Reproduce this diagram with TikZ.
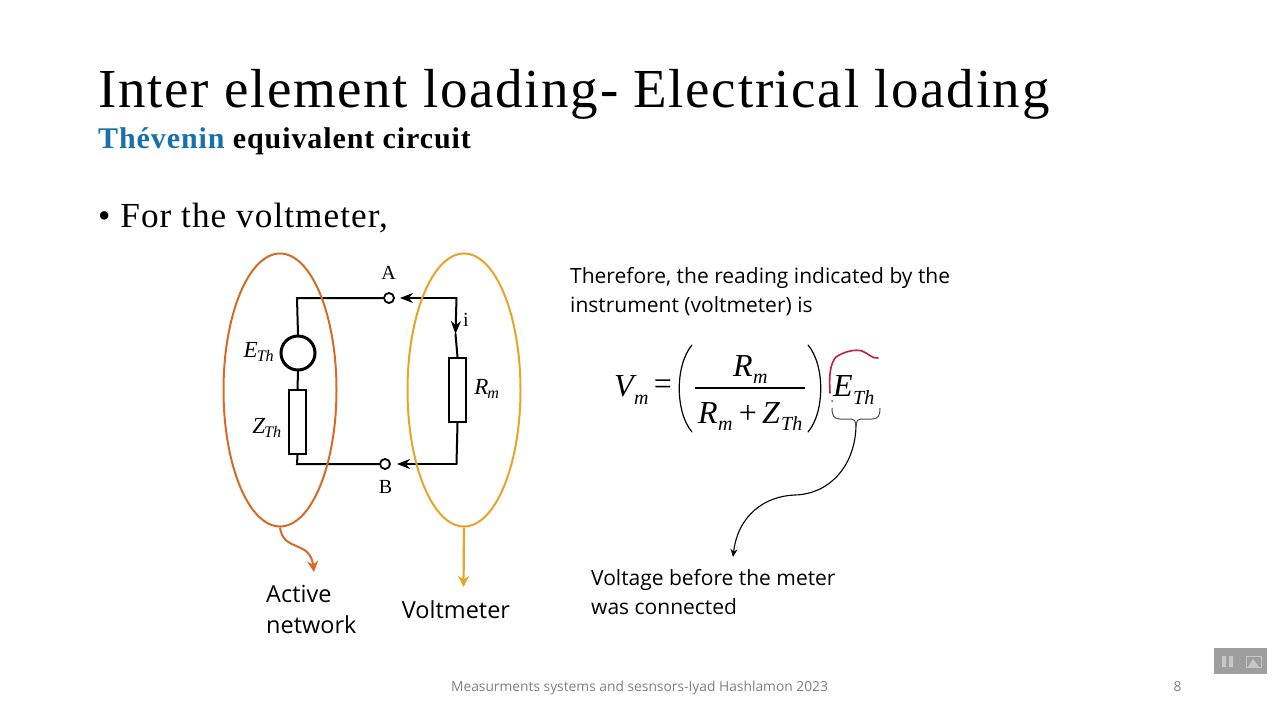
\documentclass[tikz,border=0pt]{standalone}
\usepackage{amsmath}
\usepackage[no-math]{fontspec}
\setmainfont{Liberation Serif}
\setsansfont{Open Sans}
\usetikzlibrary{arrows.meta,shapes.geometric}
\definecolor{orangeloop}{RGB}{213,107,38}
\definecolor{yellowloop}{RGB}{230,165,40}
\definecolor{thblue}{RGB}{24,112,170}
\definecolor{inkred}{RGB}{190,30,70}
\newfontfamily\spacedserif[LetterSpace=3]{Liberation Serif}
\tikzset{
  wire/.style={line width=2pt,line cap=round},
  resbox/.style={draw,line width=2pt,fill=white,minimum width=17pt,minimum height=64pt,inner sep=0pt},
  terminal/.style={circle,draw,line width=1.8pt,fill=white,minimum size=10pt,inner sep=0pt},
  loopring/.style={ellipse,draw,line width=2pt,minimum width=113pt,minimum height=273pt,inner sep=0pt},
  flow/.style={-{Stealth[length=13pt,width=10pt]}},
  lab/.style={font=\fontsize{20}{22}\selectfont,inner sep=0pt},
  circlab/.style={font=\itshape\fontsize{23}{24}\selectfont,inner sep=0pt},
  body/.style={font=\sffamily\fontsize{21}{29}\selectfont,align=left,inner sep=0pt},
  bigtext/.style={font=\sffamily\fontsize{23.5}{31}\selectfont,align=left,inner sep=0pt},
  eqbig/.style={anchor=base west,inner sep=0pt,font=\itshape\fontsize{32}{36}\selectfont},
  eqsub/.style={anchor=base west,inner sep=0pt,font=\itshape\fontsize{20}{24}\selectfont},
  bracket/.style={line width=1.2pt,line cap=round},
  footnote/.style={anchor=base,inner sep=0pt,text=black!50,font=\sffamily\fontsize{13.8}{15}\selectfont},
}
\begin{document}
\begin{tikzpicture}[x=1pt,y=-1pt]
\useasboundingbox[fill=white] (0,0) rectangle (1280,720);
\node[anchor=base west,inner sep=0pt,font=\spacedserif\fontsize{55}{60}\selectfont] (title) at (98,107) {Inter element loading- Electrical loading};
\node[anchor=base west,inner sep=0pt,font=\spacedserif\bfseries\fontsize{30}{32}\selectfont] (subtitle) at (98,148) {\textcolor{thblue}{Thévenin} equivalent circuit};
\node[anchor=base west,inner sep=0pt,font=\spacedserif\fontsize{35.2}{38}\selectfont] (bullet) at (98,227) {• For the voltmeter,};

\node[circle,draw,line width=3pt,fill=white,minimum size=34pt,inner sep=0pt] (source) at (298,353) {};
\node[resbox] (zth) at (297.5,422) {};
\node[resbox] (rm) at (457.5,390) {};
\node[terminal] (termA) at (389,298) {};
\node[terminal] (termB) at (385,464) {};
\coordinate (cornerTL) at (297,298);
\coordinate (cornerBL) at (297,464);
\coordinate (cornerTR) at (456.5,298);
\coordinate (cornerBR) at (456.5,464);
\coordinate (tipA) at (400,298);
\coordinate (tipB) at (397,464);
\coordinate (tipI) at (455.5,334);

\draw[wire] (source.north) -- (cornerTL) -- (termA.west);
\draw[wire] (source.south) -- (zth.north);
\draw[wire] (zth.south) -- (cornerBL) -- (termB.west);
\draw[wire,flow] (cornerTR) -- (tipA);
\draw[wire,flow] (cornerBR) -- (tipB);
\draw[wire,flow] (cornerTR) -- (tipI);
\draw[wire] (tipI) -- (rm.north);
\draw[wire] (rm.south) -- (cornerBR);

\node[loopring,draw=orangeloop] (activeloop) at (280,390) {};
\node[loopring,draw=yellowloop] (meterloop) at (464,390) {};

\node[circlab] (ethlab) at (259,352) {E\textsubscript{\kern-1pt Th}};
\node[circlab] (zthlab) at (267,428) {Z\textsubscript{\kern-1pt Th}};
\node[circlab] (rmlab) at (487,389) {R\textsubscript{\kern-1pt m}};
\node[lab] (alab) at (388.5,273) {A};
\node[lab] (blab) at (385.5,487) {B};
\node[lab] (ilab) at (466,320) {i};

\node[bigtext,anchor=north west] (activelab) at (266,585) {Active\\network};
\node[bigtext] (meterlab) at (456,610) {Voltmeter};
\coordinate (activetip) at (314,572);
\draw[orangeloop,line width=2pt,-{Stealth[length=11pt,width=11pt]}] (activeloop.south) .. controls (283,552) and (310,540) .. (activetip);
\coordinate (metertip) at (463.5,587);
\draw[yellowloop,line width=2.2pt,-{Stealth[length=11pt,width=11pt]}] (meterloop.south) -- (metertip);

\node[body,anchor=north west] (readtext) at (570,267.5) {Therefore, the reading indicated by the\\instrument (voltmeter) is};

\node[eqbig] (vm) at (614,396) {V};
\node[eqsub] (vmsub) at (634,404) {m};
\node[inner sep=0pt,font=\fontsize{32}{36}\selectfont] (equals) at (663,387) {=};
\coordinate (parLtop) at (692,345);
\coordinate (parLbot) at (692,432);
\coordinate (parRtop) at (808,345);
\coordinate (parRbot) at (808,432);
\coordinate (barL) at (695,388);
\coordinate (barR) at (805,388);
\draw[bracket] (parLtop) .. controls (675,365) and (675,412) .. (parLbot);
\draw[bracket] (parRtop) .. controls (825,365) and (825,412) .. (parRbot);
\draw[line width=1.2pt] (barL) -- (barR);
\node[eqbig] (numR) at (733,376) {R};
\node[eqsub] (numsub) at (753,383) {m};
\node[eqbig] (denR) at (698,423) {R};
\node[eqsub] (densub) at (718,430) {m};
\node[inner sep=0pt,anchor=base,font=\fontsize{32}{36}\selectfont] (plus) at (748,423) {+};
\node[eqbig] (denZ) at (762,423) {Z};
\node[eqsub] (denth) at (781,430) {Th};
\node[eqbig] (eth) at (833,396) {E};
\node[eqsub] (ethsub) at (853,404) {Th};

\coordinate (braceL) at (832,408);
\coordinate (braceR) at (880,408);
\coordinate (bracetip) at (856,424);
\coordinate (notetip) at (733,557);
\draw[black!70,line width=1pt] (braceL) .. controls (832,416) and (834,419) .. (840,419) -- (850,419) .. controls (854,419) and (856,421) .. (bracetip) .. controls (856,421) and (858,419) .. (862,419) -- (872,419) .. controls (878,419) and (880,416) .. (braceR);
\draw[line width=1.1pt,-{Stealth[length=8pt,width=7pt]}] (bracetip) .. controls (856,465) and (830,494) .. (795,495) .. controls (765,496) and (738,515) .. (notetip);
\node[body,anchor=north west] (notetext) at (591,569) {Voltage before the meter\\was connected};

\draw[inkred,line width=1.6pt,line cap=round] (830,393) .. controls (829,375) and (830,364) .. (836,357) .. controls (845,351) and (856,349) .. (862,351) .. controls (868,353) and (872,359) .. (878,358);
\fill[inkred] (832,401) circle (1);

\node[footnote] (footer) at (639.5,691) {Measurments systems and sesnsors-Iyad Hashlamon 2023};
\node[footnote] (pagenum) at (1177.5,691) {8};

\node[fill=black!38,minimum width=53pt,minimum height=26pt,inner sep=0pt] (pausebar) at (1240.5,661) {};
\fill[black!22] (1222,656) rectangle (1226,667) (1229,656) rectangle (1233,667);
\draw[black!22,line width=0.8pt] (1246,656) rectangle (1261,667);
\fill[black!22] (1248,667) -- (1253,659) -- (1259,667) -- cycle;
\end{tikzpicture}
\end{document}
